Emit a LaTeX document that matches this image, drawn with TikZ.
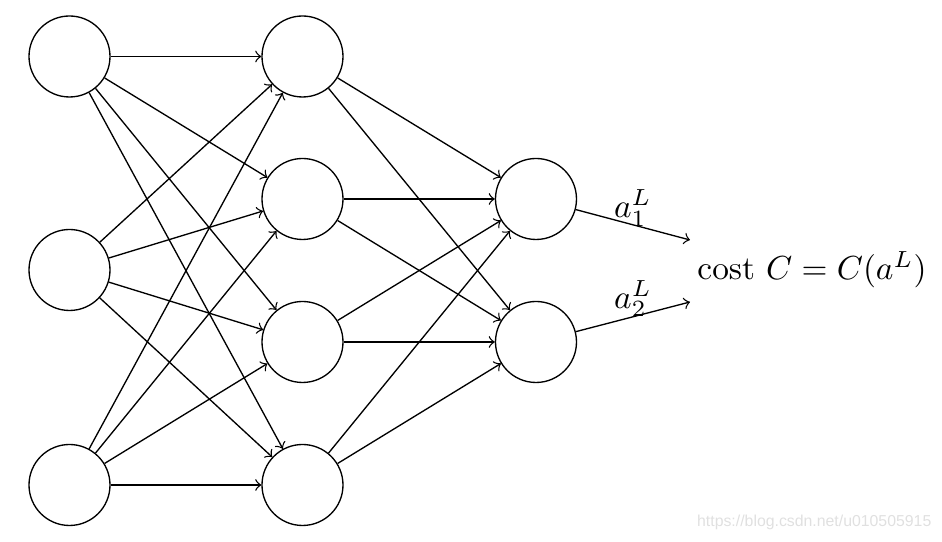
\documentclass[tikz,border=0pt]{standalone}
\usepackage{fontspec}
\newfontfamily\wmfont{Liberation Sans}
\begin{document}
\begin{tikzpicture}[x=0.3pt,y=-0.3pt,
  neuron/.style={circle,draw,inner sep=0pt,minimum size=24.3pt},
  conn/.style={->,line width=0.4pt},
  wmark/.style={text=black!12,inner sep=0pt,font=\wmfont\fontsize{4.75}{5}\selectfont}]
\useasboundingbox (0,0) rectangle (942,542);
% input layer
\node[neuron] (i1) at (69.5,56.5) {};
\node[neuron] (i2) at (69.5,270) {};
\node[neuron] (i3) at (69.5,485) {};
% hidden layer
\node[neuron] (h1) at (302.5,56.5) {};
\node[neuron] (h2) at (302.5,199) {};
\node[neuron] (h3) at (302.5,342) {};
\node[neuron] (h4) at (302.5,485) {};
% output layer
\node[neuron] (o1) at (536,199) {};
\node[neuron] (o2) at (536,342) {};
% output ends
\coordinate (e1) at (690,240);
\coordinate (e2) at (690,302);
\foreach \i in {1,2,3}
  \foreach \h in {1,2,3,4}
    \draw[conn] (i\i) -- (h\h);
\foreach \h in {1,2,3,4}
  \foreach \o in {1,2}
    \draw[conn] (h\h) -- (o\o);
\draw[conn] (o1) -- node[midway,yshift=5pt] (l1) {$a_1^L$} (e1);
\draw[conn] (o2) -- node[midway,yshift=5.5pt] (l2) {$a_2^L$} (e2);
\node[anchor=base] (cost) at (812,280) {cost $C=C(a^L)$};
\node[wmark,anchor=base east] (wm) at (932,527) {https://blog.csdn.net/u010505915};
\end{tikzpicture}
\end{document}
